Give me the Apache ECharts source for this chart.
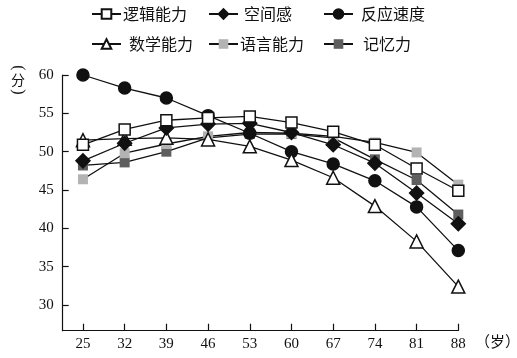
<!DOCTYPE html>
<html><head><meta charset="utf-8">
<script src="https://cdn.jsdelivr.net/npm/echarts@6/dist/echarts.min.js"></script>
<style>html,body{margin:0;padding:0;background:#fff}#c{width:517px;height:358px}</style>
</head><body><div id="c"></div>
<script>
const ages = [25, 32, 39, 46, 53, 60, 67, 74, 81, 88];
const yTicks = [30, 35, 40, 45, 50, 55, 60];
const luoji = [50.9, 52.9, 54.1, 54.4, 54.6, 53.8, 52.6, 50.9, 47.8, 44.9];
const kongjian = [48.8, 51.1, 53.1, 53.6, 53.7, 52.5, 50.9, 48.5, 44.6, 40.6];
const fanying = [60.0, 58.3, 57.0, 54.7, 52.4, 50.0, 48.4, 46.2, 42.8, 37.1];
const shuxue = [51.5, 51.7, 51.8, 51.6, 50.7, 48.9, 46.6, 42.9, 38.3, 32.4];
const yuyan = [46.4, 49.8, 51.0, 52.0, 52.5, 52.4, 52.0, 51.2, 49.9, 45.7];
const jiyi = [48.2, 48.6, 50.0, 51.8, 52.3, 52.3, 51.8, 49.0, 46.3, 41.8];
const names = ['逻辑能力', '空间感', '反应速度', '数学能力', '语言能力', '记忆力'];

const pair = arr => ages.map((a, i) => [a, arr[i]]);
const chart = echarts.init(document.getElementById('c'));
const cjk = '"Noto Sans CJK SC", sans-serif';
const serif = '"Liberation Serif", "DejaVu Serif", serif';

function mk(name, data, symbol, size, fill, border, z) {
  return {
    name, type: 'line', data: pair(data), symbol, symbolSize: size, z,
    lineStyle: { color: '#111', width: 1.3 },
    itemStyle: { color: fill, borderColor: border, borderWidth: border === 'transparent' ? 0 : 1.5 },
    emphasis: { disabled: true }, animation: false
  };
}
const legendPos = [
  [91, 6], [208, 6], [323, 6],
  [91, 36], [208, 36], [323, 36]
];
const textPad = [0, 4, 6, 6, 0, 8];
const legends = names.map((n, i) => ({
  data: [n], left: legendPos[i][0], top: legendPos[i][1],
  itemWidth: 29, itemHeight: 12, itemGap: 4, padding: 0,
  textStyle: { fontFamily: cjk, fontSize: 16, color: '#111', padding: [0, 0, 0, textPad[i] - 3] },
  selectedMode: false
}));

chart.setOption({
  animation: false,
  legend: legends,
  grid: { left: 62.7, right: 58.7, top: 75, bottom: 27.3 },
  xAxis: {
    type: 'value', min: 21.6, max: 88,
    axisLine: { lineStyle: { color: '#111', width: 1.2 } },
    axisTick: { inside: true, length: 7, customValues: ages, lineStyle: { color: '#111', width: 1.2 } },
    axisLabel: { customValues: ages, fontFamily: serif, fontSize: 15, color: '#111', margin: 6 },
    splitLine: { show: false }
  },
  yAxis: {
    type: 'value', min: 26.65, max: 60,
    axisLine: { show: true, lineStyle: { color: '#111', width: 1.2 } },
    axisTick: { show: true, inside: true, length: 6, customValues: yTicks, lineStyle: { color: '#111', width: 1.2 } },
    axisLabel: { customValues: yTicks, fontFamily: serif, fontSize: 15, color: '#111', margin: 9 },
    splitLine: { show: false }
  },
  graphic: [
    { type: 'text', x: 18, y: 68, rotation: -Math.PI / 2, style: { text: '(', fontFamily: serif, fontSize: 16, fill: '#111', align: 'center', verticalAlign: 'middle' } },
    { type: 'text', x: 18, y: 80, style: { text: '分', fontFamily: cjk, fontSize: 14, fill: '#111', align: 'center', verticalAlign: 'middle' } },
    { type: 'text', x: 18, y: 92, rotation: -Math.PI / 2, style: { text: ')', fontFamily: serif, fontSize: 16, fill: '#111', align: 'center', verticalAlign: 'middle' } },
    { type: 'text', left: 475, top: 334, style: { text: '（岁）', fontFamily: cjk, fontSize: 15, fill: '#111' } }
  ],
  series: [
    mk('记忆力', jiyi, 'rect', 10, '#5e5e5e', 'transparent', 1),
    mk('语言能力', yuyan, 'rect', 10, '#b3b3b3', 'transparent', 2),
    mk('反应速度', fanying, 'circle', 12, '#111', '#111', 3),
    mk('数学能力', shuxue, 'triangle', 13, '#fff', '#111', 4),
    mk('空间感', kongjian, 'diamond', 14, '#111', '#111', 5),
    mk('逻辑能力', luoji, 'rect', 11, '#fff', '#111', 6)
  ]
});
</script></body></html>
